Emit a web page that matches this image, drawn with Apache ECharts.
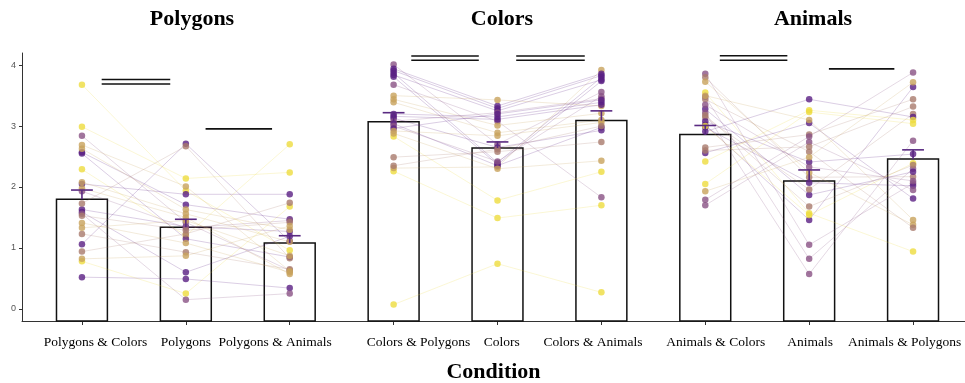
<!DOCTYPE html>
<html>
<head>
<meta charset="utf-8">
<script src="https://cdn.jsdelivr.net/npm/echarts@6/dist/echarts.min.js"></script>
<style>
  html, body { margin: 0; padding: 0; background: #fff; }
  #chart { width: 965px; height: 383px; }
</style>
</head>
<body>
<div id="chart"></div>
<script>
const conditions = [
  "Polygons & Colors", "Polygons", "Polygons & Animals",
  "Colors & Polygons", "Colors", "Colors & Animals",
  "Animals & Colors", "Animals", "Animals & Polygons",
];
const panelTitles = ["Polygons", "Colors", "Animals"];
const yTicks = [0, 1, 2, 3, 4];

const barMeans = [1.80, 1.34, 1.08, 3.07, 2.64, 3.09, 2.86, 2.10, 2.46];
const errorUpper = [1.95, 1.47, 1.20, 3.22, 2.74, 3.25, 3.01, 2.28, 2.61];

// per-subject scores, same subject order inside a panel
// shade: 0 = purple ... 4 = yellow
const polyColors = [3.68, 2.99, 2.29, 0.78, 2.57, 2.55, 2.05, 1.63, 1.59, 0.52, 1.06, 2.84, 1.93, 1.56, 1.73, 1.53, 1.23, 0.94, 2.69, 2.63, 2.08, 1.98, 1.41, 1.33, 0.82];
const polygons = [1.94, 2.14, 1.20, 0.25, 1.71, 1.15, 1.88, 1.35, 0.60, 0.49, 2.71, 1.42, 1.33, 0.15, 2.67, 1.29, 0.93, 1.23, 2.01, 1.63, 1.56, 1.50, 1.08, 1.45, 0.87];
const polyAnimals = [0.96, 2.24, 2.70, 1.68, 1.47, 0.85, 1.88, 1.27, 1.19, 0.34, 1.11, 0.63, 1.45, 0.25, 0.83, 1.42, 0.65, 1.74, 0.62, 1.30, 1.10, 0.57, 0.60, 0.87, 1.36];
const polyShade = [4, 4, 4, 4, 0, 0, 0, 0, 0, 0, 0, 1, 1, 1, 2, 2, 2, 2, 3, 3, 3, 3, 3, 3, 3];

const colorPolygons = [0.07, 2.26, 2.83, 2.31, 4.01, 3.94, 3.91, 3.87, 3.84, 3.81, 3.68, 3.50, 3.44, 3.39, 3.20, 3.16, 3.13, 3.08, 3.04, 3.00, 2.96, 2.92, 2.88, 2.49, 2.35];
const colors = [0.74, 1.49, 1.78, 2.33, 2.70, 3.33, 3.29, 2.40, 3.25, 2.37, 3.08, 3.43, 3.01, 2.89, 3.15, 3.11, 2.65, 3.22, 2.35, 2.42, 3.20, 2.84, 2.30, 2.58, 2.62];
const colorAnimals = [0.27, 1.70, 2.25, 3.92, 3.56, 3.86, 3.83, 3.80, 3.76, 3.74, 1.83, 3.33, 3.21, 3.10, 3.39, 3.35, 2.93, 3.45, 2.98, 3.49, 3.43, 3.06, 2.43, 2.74, 3.00];
const colorShade = [4, 4, 4, 3, 1, 0, 0, 0, 0, 0, 1, 3, 3, 3, 0, 0, 0, 1, 0, 1, 0, 3, 3, 2, 2];

const animalColors = [3.86, 3.80, 3.73, 3.55, 3.48, 3.44, 3.28, 3.22, 3.14, 3.08, 3.02, 2.98, 2.91, 2.65, 2.56, 2.42, 2.05, 1.93, 1.79, 1.70, 3.35, 3.00, 2.60, 3.50, 3.18];
const animals = [1.05, 2.16, 2.24, 1.57, 0.82, 2.58, 1.87, 0.57, 1.96, 2.41, 1.46, 2.07, 3.44, 2.86, 3.05, 3.26, 3.23, 2.49, 2.83, 2.74, 2.33, 1.54, 2.66, 3.10, 1.68];
const animalPolygons = [2.06, 2.17, 1.38, 0.94, 2.30, 1.33, 2.25, 2.76, 3.20, 2.54, 3.64, 2.02, 3.15, 3.44, 1.81, 3.10, 3.04, 3.72, 3.88, 1.95, 2.10, 2.39, 3.32, 1.46, 2.36];
const animalShade = [1, 2, 3, 4, 1, 2, 0, 1, 2, 0, 0, 0, 0, 2, 0, 4, 4, 3, 1, 1, 1, 4, 2, 3, 2];

// significance bars: [from, to, y] in condition-index units
const sigLines = [
  [0.19, 0.85, 3.765], [0.19, 0.85, 3.69], [1.19, 1.83, 2.955],
  [3.17, 3.82, 4.15], [3.17, 3.82, 4.08], [4.18, 4.84, 4.15], [4.18, 4.84, 4.08],
  [6.14, 6.79, 4.155], [6.14, 6.79, 4.08], [7.19, 7.82, 3.94],
];

// layout: the tick labels sit a little off their ticks in the original
const labelShift = [0.13, 0, -0.14, 0.24, 0.04, -0.08, 0.1, 0.01, -0.08];
const shadeColors = ["#5a1f83", "#8a5284", "#a97b6d", "#c8a35c", "#eedc3e"];
const Y_MIN = -0.2;
const serif = "'Liberation Serif', 'Times New Roman', serif";

const panels = [
  { start: 0, cols: [polyColors, polygons, polyAnimals], shade: polyShade },
  { start: 3, cols: [colorPolygons, colors, colorAnimals], shade: colorShade },
  { start: 6, cols: [animalColors, animals, animalPolygons], shade: animalShade },
];

const pointData = [];
const pathData = [];
panels.forEach((panel) => {
  panel.shade.forEach((shade, s) => {
    pathData.push([panel.start, panel.cols[0][s], panel.cols[1][s], panel.cols[2][s], shade]);
    panel.cols.forEach((col, c) => {
      pointData.push([panel.start + c, col[s], shade]);
    });
  });
});

const chart = echarts.init(document.getElementById("chart"));
const conditionIdx = conditions.map((_, i) => i);
const labelPos = conditionIdx.map((i) => i + labelShift[i]);

chart.setOption({
  animation: false,
  title: panelTitles.map((text, i) => ({
    text,
    left: [187, 497, 808][i],
    top: 3,
    textAlign: "center",
    textStyle: { fontFamily: serif, fontWeight: "bold", fontSize: 22, color: "#000" },
  })),
  grid: { left: 22, right: 0, top: 53, bottom: 62, outerBoundsMode: "none" },
  xAxis: {
    type: "value",
    min: -0.577,
    max: 8.5,
    splitLine: { show: false },
    axisLine: { onZero: false, lineStyle: { color: "#333", width: 1 } },
    axisTick: { show: true, customValues: conditionIdx, length: 4, lineStyle: { color: "#333", width: 1 } },
    axisLabel: {
      customValues: labelPos,
      formatter: (v) => conditions[labelPos.findIndex((p) => Math.abs(p - v) < 1e-6)],
      fontFamily: serif,
      fontSize: 13.5,
      color: "#000",
      margin: 14,
    },
    name: "Condition",
    nameLocation: "middle",
    nameGap: 40,
    nameTextStyle: { fontFamily: serif, fontWeight: "bold", fontSize: 22, color: "#000" },
  },
  yAxis: {
    type: "value",
    min: Y_MIN,
    max: 4.2,
    splitLine: { show: false },
    axisLine: { show: true, onZero: false, lineStyle: { color: "#333", width: 1 } },
    axisTick: { show: true, customValues: yTicks, length: 3, lineStyle: { color: "#333" } },
    axisLabel: { customValues: yTicks, fontSize: 9, color: "#555", margin: 6 },
  },
  series: [
    {
      type: "custom",
      z: 1,
      data: barMeans.map((m, i) => [i, m]),
      renderItem: (params, api) => {
        const top = api.coord([api.value(0), api.value(1)]);
        const base = api.coord([api.value(0), Y_MIN]);
        const w = api.size([0.49, 0])[0];
        return {
          type: "rect",
          shape: { x: top[0] - w / 2, y: top[1], width: w, height: base[1] - top[1] },
          style: { fill: "#fff", stroke: "#111", lineWidth: 1.5 },
        };
      },
    },
    {
      type: "custom",
      z: 2,
      data: pathData,
      renderItem: (params, api) => {
        const x = api.value(0);
        const pts = [1, 2, 3].map((k) => api.coord([x + k - 1, api.value(k)]));
        return {
          type: "polyline",
          shape: { points: pts },
          style: { fill: null, stroke: shadeColors[api.value(4)], lineWidth: 1, opacity: 0.22 },
        };
      },
    },
    {
      type: "scatter",
      z: 3,
      symbolSize: 6.5,
      data: pointData,
      itemStyle: { color: (p) => shadeColors[p.value[2]], opacity: 0.8 },
    },
    {
      type: "custom",
      z: 4,
      data: barMeans.map((m, i) => [i, m, errorUpper[i]]),
      renderItem: (params, api) => {
        const low = api.coord([api.value(0), api.value(1)]);
        const high = api.coord([api.value(0), api.value(2)]);
        const cap = api.size([0.21, 0])[0] / 2;
        const style = { stroke: "#5a2a82", lineWidth: 1.6 };
        return {
          type: "group",
          children: [
            { type: "line", shape: { x1: low[0], y1: low[1], x2: high[0], y2: high[1] }, style },
            { type: "line", shape: { x1: high[0] - cap, y1: high[1], x2: high[0] + cap, y2: high[1] }, style },
          ],
        };
      },
    },
    {
      type: "custom",
      z: 5,
      data: sigLines,
      renderItem: (params, api) => {
        const a = api.coord([api.value(0), api.value(2)]);
        const b = api.coord([api.value(1), api.value(2)]);
        return {
          type: "line",
          shape: { x1: a[0], y1: a[1], x2: b[0], y2: b[1] },
          style: { stroke: "#111", lineWidth: 1.6 },
        };
      },
    },
  ],
});
</script>
</body>
</html>
